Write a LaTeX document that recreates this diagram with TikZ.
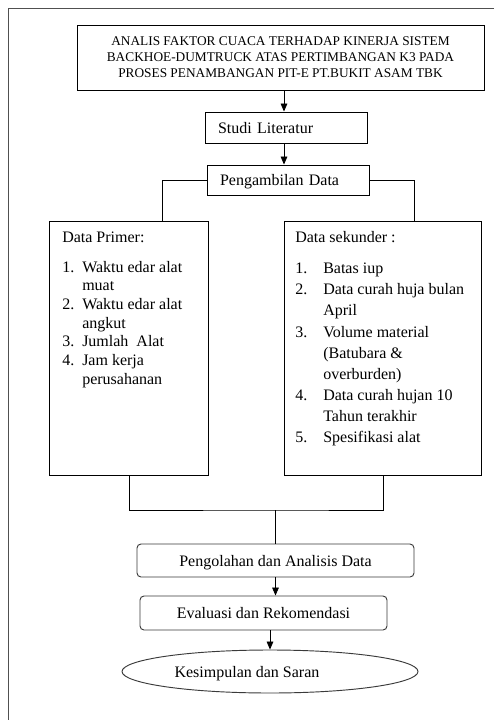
\documentclass[tikz,border=0pt]{standalone}
\usepackage{fontspec}
\setmainfont{Liberation Serif}
\usetikzlibrary{arrows.meta,shapes.geometric}
\definecolor{framegray}{HTML}{505050}
\definecolor{edgegray}{HTML}{3A3A3A}
\begin{document}
\begin{tikzpicture}[x=0.75pt,y=-0.75pt,
  box/.style={draw=black, line width=0.7pt, inner sep=0pt},
  lbox/.style={box, align=left, inner xsep=9.75pt, inner ysep=0pt,
    text width=102pt, text height=8.6pt, text depth=0pt,
    font=\fontsize{12}{14}\selectfont},
  rbox/.style={draw=edgegray, line width=0.7pt, rounded corners=3pt, inner sep=0pt,
    text height=8.6pt, text depth=0pt, font=\fontsize{12}{14}\selectfont},
  listtext/.style={anchor=base west, inner sep=0pt},
  conn/.style={draw=black, line width=0.65pt},
  arr/.style={conn, -{Triangle[length=6pt,width=5pt]}}
]
\useasboundingbox (0,0) rectangle (494,720);
% outer frame
\draw[draw=framegray, line width=0.75pt] (494,9) -- (8,9) -- (8,720);

% title
\node[box, minimum width=305.25pt, minimum height=48.75pt, align=center,
  font=\fontsize{10}{12}\selectfont] (title) at (280.5,57.5)
  {ANALIS FAKTOR CUACA TERHADAP KINERJA SISTEM\\
   BACKHOE-DUMTRUCK ATAS PERTIMBANGAN K3 PADA\\
   PROSES PENAMBANGAN PIT-E PT.BUKIT ASAM TBK};

\node[lbox, minimum height=23.25pt] (studi) at (286,127.5) {Studi Literatur};
\node[lbox, minimum height=22.5pt] (ambil) at (288,180) {Pengambilan Data};

% data boxes
\node[box, anchor=north west, minimum width=119.25pt, minimum height=190.5pt] (primer) at (49,221) {};
\node[box, anchor=north west, minimum width=147.75pt, minimum height=190.5pt] (sekunder) at (284,221) {};

\node[listtext, font=\fontsize{12}{14}\selectfont] (primertxt) at (62,243)
{\begin{tabular}[t]{@{}p{15pt}@{}l@{}}
\multicolumn{2}{@{}l@{}}{Data Primer:}\\[7.75pt]
1. & Waktu edar alat\\
   & muat\\
2. & Waktu edar alat\\
   & angkut\\
3. & Jumlah\ \ Alat\\
4. & Jam kerja\\
   & perusahanan
\end{tabular}};

\node[listtext, font=\fontsize{12}{15.75}\selectfont] (sekundertxt) at (295,243)
{\begin{tabular}[t]{@{}p{21pt}@{}l@{}}
\multicolumn{2}{@{}l@{}}{Data sekunder :}\\[7.5pt]
1. & Batas iup\\
2. & Data curah huja bulan\\
   & April\\
3. & Volume material\\
   & (Batubara \&\\
   & overburden)\\
4. & Data curah hujan 10\\
   & Tahun terakhir\\
5. & Spesifikasi alat
\end{tabular}};

% lower boxes
\node[rbox, minimum width=207.75pt, minimum height=24.75pt] (olah) at (275.5,560.5) {Pengolahan dan Analisis Data};
\node[rbox, minimum width=185.25pt, minimum height=25.5pt] (eval) at (263.5,613) {Evaluasi dan Rekomendasi};
\node[ellipse, draw=edgegray, line width=0.7pt, inner sep=0pt, minimum width=222pt, minimum height=32.25pt,
  text height=8.6pt, text depth=0pt, font=\fontsize{12}{14}\selectfont] (kes) at (270,671.5)
  {\hspace*{-34.5pt}Kesimpulan dan Saran};

% connector helper coordinates
\coordinate (ax) at (284,0);
\coordinate (lx) at (162,0);
\coordinate (rx) at (414,0);
\coordinate (jn) at (275.5,510);

\draw[arr] (title.south -| ax) -- (studi.north -| ax);
\draw[arr] (studi.south -| ax) -- (ambil.north -| ax);
\draw[conn] (ambil.west) -| (primer.north -| lx);
\draw[conn] (ambil.east) -| (sekunder.north -| rx);
\draw[conn] (primer.south) |- (jn) -| (sekunder.south);
\draw[conn] (jn) -- (olah.north);
\draw[arr] (olah.south) -- (eval.north -| olah.south);
\draw[arr] (eval.south -| kes.north) -- (kes.north);
\end{tikzpicture}
\end{document}
